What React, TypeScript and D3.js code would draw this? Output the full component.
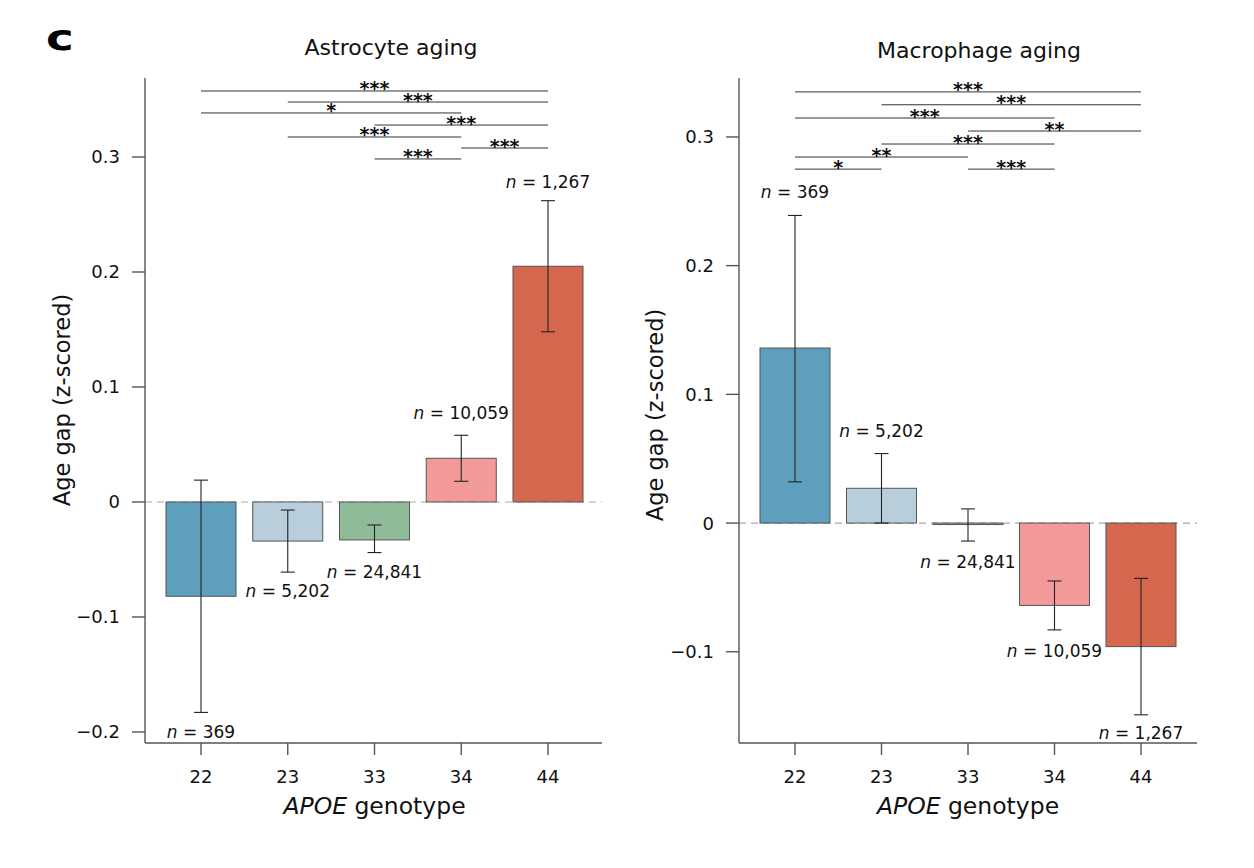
import React from "react";
import * as d3 from "d3";

const genotypes = ["22", "23", "33", "34", "44"];
const barColors = ["#5e9fbd", "#b8cfdb", "#8fbb98", "#f29a9a", "#d5674f"];
const counts = ["369", "5,202", "24,841", "10,059", "1,267"];

// astrocyte panel
const astroMean = [-0.082, -0.034, -0.033, 0.038, 0.205];
const astroLow = [-0.183, -0.061, -0.044, 0.018, 0.148];
const astroHigh = [0.019, -0.007, -0.02, 0.058, 0.262];
const astroLabelY = [-0.205, -0.083, -0.066, 0.072, 0.273];
const astroBrackets: [string, string, number, string][] = [
  ["22", "44", 0.3574, "***"],
  ["23", "44", 0.3478, "***"],
  ["22", "34", 0.3383, "*"],
  ["33", "44", 0.3278, "***"],
  ["23", "34", 0.3174, "***"],
  ["34", "44", 0.3078, "***"],
  ["33", "34", 0.2983, "***"],
];

// macrophage panel
const macroMean = [0.136, 0.027, -0.001, -0.064, -0.096];
const macroLow = [0.032, 0.0, -0.014, -0.083, -0.149];
const macroHigh = [0.239, 0.054, 0.011, -0.045, -0.043];
const macroLabelY = [0.2525, 0.067, -0.035, -0.104, -0.168];
const macroBrackets: [string, string, number, string][] = [
  ["22", "44", 0.335, "***"],
  ["23", "44", 0.325, "***"],
  ["22", "34", 0.3147, "***"],
  ["33", "44", 0.3046, "**"],
  ["23", "34", 0.2945, "***"],
  ["22", "33", 0.2844, "**"],
  ["22", "23", 0.275, "*"],
  ["33", "34", 0.275, "***"],
];

const astroTicks = [-0.2, -0.1, 0, 0.1, 0.2, 0.3];
const macroTicks = [-0.1, 0, 0.1, 0.2, 0.3];

const FONT = "'DejaVu Sans', Arial, sans-serif";
const AXIS = "#555";

function fmt(v: number) {
  if (v === 0) return "0";
  return (v < 0 ? "\u2212" : "") + Math.abs(v).toFixed(1);
}

interface PanelProps {
  title: string;
  titleX: number;
  titleY: number;
  axisX: number;
  axisEnd: number;
  xRange: [number, number];
  yDomain: [number, number];
  mean: number[];
  low: number[];
  high: number[];
  labelY: number[];
  brackets: [string, string, number, string][];
  ticks: number[];
  yTitleY: number;
  yTitleX: number;
}

function Panel(p: PanelProps) {
  const bottom = 743;
  const top = 78;
  const x = d3.scalePoint<string>().domain(genotypes).range(p.xRange);
  const y = d3.scaleLinear().domain(p.yDomain).range([bottom, top]);
  const bw = 70;
  const cap = 7;
  const midX = (p.xRange[0] + p.xRange[1]) / 2;

  return (
    <g fontFamily={FONT}>
      <text x={p.titleX} y={p.titleY} textAnchor="middle" fontSize={22} fill="#111">
        {p.title}
      </text>

      {/* zero line */}
      <line
        x1={p.axisX}
        x2={p.axisEnd}
        y1={y(0)}
        y2={y(0)}
        stroke="#aaa"
        strokeWidth={1.2}
        strokeDasharray="7,5"
      />

      {/* bars */}
      {genotypes.map((g, i) => {
        const v = p.mean[i];
        const cx = x(g)!;
        return (
          <g key={g}>
            <rect
              x={cx - bw / 2}
              y={Math.min(y(v), y(0))}
              width={bw}
              height={Math.max(Math.abs(y(v) - y(0)), 1.5)}
              fill={barColors[i]}
              stroke="#555"
              strokeWidth={1}
            />
            <line x1={cx} x2={cx} y1={y(p.low[i])} y2={y(p.high[i])} stroke="#222" strokeWidth={1.1} />
            <line x1={cx - cap} x2={cx + cap} y1={y(p.low[i])} y2={y(p.low[i])} stroke="#222" strokeWidth={1.1} />
            <line x1={cx - cap} x2={cx + cap} y1={y(p.high[i])} y2={y(p.high[i])} stroke="#222" strokeWidth={1.1} />
            <text x={cx} y={y(p.labelY[i])} textAnchor="middle" fontSize={17} fill="#111">
              <tspan fontStyle="italic">n</tspan>
              {" = " + counts[i]}
            </text>
          </g>
        );
      })}

      {/* significance brackets */}
      {p.brackets.map(([a, b, v, s], i) => {
        const x1 = x(a)!;
        const x2 = x(b)!;
        return (
          <g key={i}>
            <line x1={x1} x2={x2} y1={y(v)} y2={y(v)} stroke="#333" strokeWidth={1} />
            <text
              x={(x1 + x2) / 2}
              y={y(v) + 4.5}
              textAnchor="middle"
              fontSize={19}
              fontWeight="bold"
              fill="#111"
            >
              {s}
            </text>
          </g>
        );
      })}

      {/* y axis */}
      <line x1={p.axisX} x2={p.axisX} y1={top} y2={bottom} stroke={AXIS} strokeWidth={1.4} />
      {p.ticks.map((t) => (
        <g key={t}>
          <line x1={p.axisX - 13} x2={p.axisX} y1={y(t)} y2={y(t)} stroke={AXIS} strokeWidth={1.4} />
          <text x={p.axisX - 25} y={y(t) + 6.5} textAnchor="end" fontSize={18} fill="#111">
            {fmt(t)}
          </text>
        </g>
      ))}
      <text
        transform={`translate(${p.yTitleX},${p.yTitleY}) rotate(-90)`}
        textAnchor="middle"
        fontSize={22.5}
        fill="#111"
      >
        Age gap (z-scored)
      </text>

      {/* x axis */}
      <line x1={p.axisX} x2={p.axisEnd} y1={bottom} y2={bottom} stroke={AXIS} strokeWidth={1.4} />
      {genotypes.map((g) => (
        <g key={g}>
          <line x1={x(g)!} x2={x(g)!} y1={bottom} y2={bottom + 12} stroke={AXIS} strokeWidth={1.4} />
          <text x={x(g)!} y={bottom + 40} textAnchor="middle" fontSize={18} fill="#111">
            {g}
          </text>
        </g>
      ))}
      <text x={midX} y={bottom + 71} textAnchor="middle" fontSize={23.5} fill="#111">
        <tspan fontStyle="italic">APOE</tspan> genotype
      </text>
    </g>
  );
}

export default function App() {
  return (
    <svg
      width={1254}
      height={868}
      style={{ position: "fixed", left: 0, top: 0, background: "#fff" }}
    >
      <text
        transform="translate(46,50) scale(1.3,1)"
        fontFamily="'DejaVu Sans', Arial, sans-serif"
        fontWeight={900}
        fontSize={36}
        fill="#000"
      >
        c
      </text>
      <Panel
        title="Astrocyte aging"
        titleX={391}
        titleY={55}
        axisX={145}
        axisEnd={602}
        xRange={[201, 548]}
        yDomain={[-0.2096, 0.3687]}
        mean={astroMean}
        low={astroLow}
        high={astroHigh}
        labelY={astroLabelY}
        brackets={astroBrackets}
        ticks={astroTicks}
        yTitleX={70}
        yTitleY={400}
      />
      <Panel
        title="Macrophage aging"
        titleX={979}
        titleY={58}
        axisX={739}
        axisEnd={1197}
        xRange={[795, 1141]}
        yDomain={[-0.1709, 0.3458]}
        mean={macroMean}
        low={macroLow}
        high={macroHigh}
        labelY={macroLabelY}
        brackets={macroBrackets}
        ticks={macroTicks}
        yTitleX={663}
        yTitleY={415}
      />
    </svg>
  );
}
